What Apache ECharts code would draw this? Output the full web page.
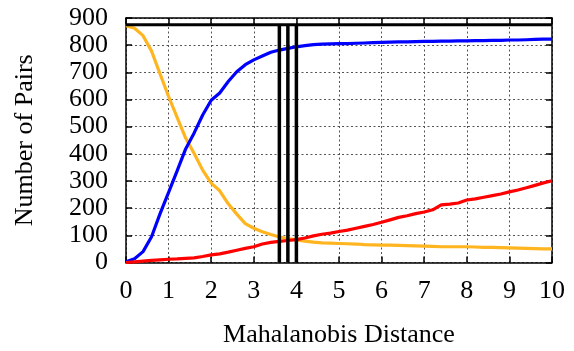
<!DOCTYPE html>
<html>
<head>
<meta charset="utf-8">
<script src="https://cdn.jsdelivr.net/npm/echarts@6/dist/echarts.min.js"></script>
<style>
  html, body { margin: 0; padding: 0; background: #fff; }
  #chart { width: 574px; height: 351px; }
</style>
</head>
<body>
<div id="chart"></div>
<script>
// Mahalanobis distance thresholds (x) and pair counts per curve
const distances = [
  0, 0.2, 0.4, 0.6, 0.8, 1.0, 1.2, 1.4, 1.6, 1.8,
  2.0, 2.2, 2.4, 2.6, 2.8, 3.0, 3.2, 3.4, 3.6, 3.8,
  4.0, 4.2, 4.4, 4.6, 4.8, 5.0, 5.2, 5.4, 5.6, 5.8,
  6.0, 6.2, 6.4, 6.6, 6.8, 7.0, 7.2, 7.4, 7.6, 7.8,
  8.0, 8.2, 8.4, 8.6, 8.8, 9.0, 9.2, 9.4, 9.6, 9.8, 10
];
const orangeCounts = [
  872, 862, 835, 778, 694, 611, 534, 458, 401, 340,
  292, 264, 216, 178, 143, 126, 113, 103, 94, 88,
  83, 79, 75, 72, 71, 70, 69, 68, 66, 65,
  64, 64, 63, 62, 61, 60, 59, 58, 58, 58,
  58, 57, 56, 56, 55, 54, 53, 52, 51, 50, 50
];
const blueCounts = [
  3, 14, 40, 95, 180, 258, 337, 418, 477, 543,
  597, 624, 666, 702, 728, 746, 760, 774, 782, 788,
  794, 798, 802, 804, 805, 806, 806, 807, 808, 809,
  810, 811, 812, 812, 813, 814, 814, 815, 815, 816,
  816, 817, 817, 818, 818, 819, 819, 820, 821, 822, 822
];
const redCounts = [
  0, 2, 5, 8, 10, 12, 13, 15, 17, 22,
  28, 32, 38, 45, 52, 58, 68, 74, 78, 81,
  84, 90, 98, 104, 108, 114, 119, 126, 133, 140,
  148, 157, 166, 172, 180, 186, 194, 212, 215, 219,
  230, 234, 240, 246, 252, 260, 267, 275, 284, 293, 301
];
// Reference levels: total pairs and marked distance cut-offs
const totalPairs = 875;
const cutoffs = [3.6, 3.8, 4.0];

const xName = 'Mahalanobis Distance';
const yName = 'Number of Pairs';

const pairs = (ys) => distances.map((d, i) => [d, ys[i]]);
const font = '"Liberation Serif", "Times New Roman", Times, serif';
const fs = 26;

const series = [
  { data: pairs(orangeCounts), color: '#ffb51f' },
  { data: pairs(blueCounts), color: '#0000ff' },
  { data: pairs(redCounts), color: '#ff0000' }
].map(s => ({
  type: 'line', data: s.data, showSymbol: false, symbol: 'none',
  lineStyle: { color: s.color, width: 3.2 }, z: 3
}));

series.push({
  type: 'line', data: [[0, totalPairs], [10, totalPairs]], symbol: 'none',
  lineStyle: { color: '#000', width: 3 }, z: 5
});
cutoffs.forEach(c => series.push({
  type: 'line', data: [[c, 0], [c, totalPairs]], symbol: 'none',
  lineStyle: { color: '#000', width: 3.5 }, z: 5
}));

const chart = echarts.init(document.getElementById('chart'), null, { renderer: 'canvas' });
const splitLine = { show: true, lineStyle: { color: '#555', type: [2, 2.5], width: 1 } };
chart.setOption({
  animation: false,
  backgroundColor: '#fff',
  textStyle: { fontFamily: font },
  grid: {
    left: 126, right: 22, top: 18, bottom: 88.5,
    containLabel: false, outerBoundsMode: 'none'
  },
  xAxis: [{
    type: 'value', min: 0, max: 10, interval: 1, position: 'bottom',
    name: xName, nameLocation: 'middle', nameGap: 60,
    nameTextStyle: { fontFamily: font, fontSize: fs, color: '#000' },
    axisLine: { show: true, lineStyle: { color: '#000', width: 1.5 } },
    axisTick: { show: true, inside: true, length: 6, lineStyle: { color: '#000', width: 1.5 } },
    axisLabel: { fontFamily: font, fontSize: fs, color: '#000', margin: 16 },
    splitLine
  }, {
    type: 'value', min: 0, max: 10, interval: 1, position: 'top',
    axisLine: { show: true, onZero: false, lineStyle: { color: '#000', width: 1.5 } },
    axisTick: { show: true, inside: true, length: 6, lineStyle: { color: '#000', width: 1.5 } },
    axisLabel: { show: false }, splitLine: { show: false }
  }],
  yAxis: [{
    type: 'value', min: 0, max: 900, interval: 100, position: 'left',
    name: yName, nameLocation: 'middle', nameGap: 88, nameRotate: 90,
    nameTextStyle: { fontFamily: font, fontSize: fs, color: '#000' },
    axisLine: { show: true, lineStyle: { color: '#000', width: 1.5 } },
    axisTick: { show: true, inside: true, length: 6, lineStyle: { color: '#000', width: 1.5 } },
    axisLabel: { fontFamily: font, fontSize: fs, color: '#000', margin: 18 },
    splitLine
  }, {
    type: 'value', min: 0, max: 900, interval: 100, position: 'right',
    axisLine: { show: true, onZero: false, lineStyle: { color: '#000', width: 1.5 } },
    axisTick: { show: true, inside: true, length: 6, lineStyle: { color: '#000', width: 1.5 } },
    axisLabel: { show: false }, splitLine: { show: false }
  }],
  series
});
</script>
</body>
</html>
